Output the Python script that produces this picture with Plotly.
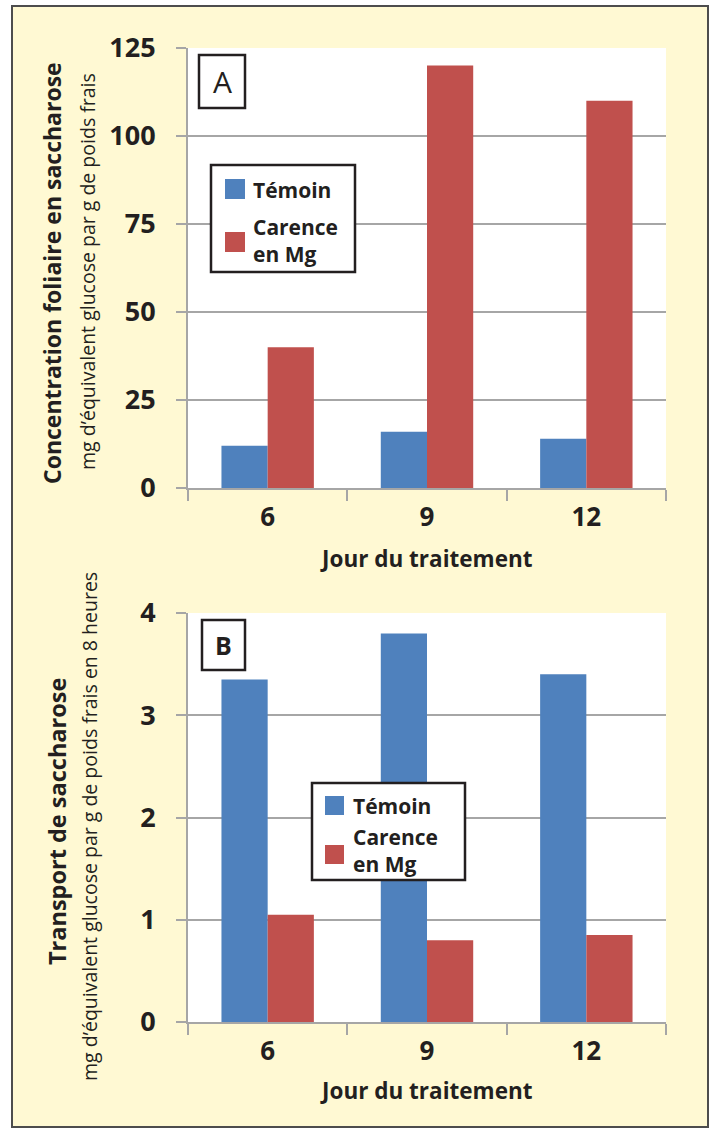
import plotly.graph_objects as go

W, H = 711, 1128

# ---- data ----
jours = ["6", "9", "12"]
series_names = ["Témoin", "Carence en Mg"]
sucrose_temoin = [12, 16, 14]
sucrose_carence = [40, 120, 110]
transport_temoin = [3.35, 3.8, 3.4]
transport_carence = [1.05, 0.8, 0.85]
ticks_A = [0, 25, 50, 75, 100, 125]
ticks_B = [0, 1, 2, 3, 4]

BLUE = "#4F81BD"
RED = "#C0504D"
GRID = "#A6A6A6"
TXT = "#231F20"
BG = "#FFF9D3"
FONT = "Open Sans"


def px(x):
    return x / W


def py(y):
    return 1 - y / H


fig = go.Figure()
fig.add_trace(go.Bar(x=jours, y=sucrose_temoin, marker_color=BLUE, marker_line_width=0,
                     name=series_names[0], xaxis="x", yaxis="y", showlegend=False))
fig.add_trace(go.Bar(x=jours, y=sucrose_carence, marker_color=RED, marker_line_width=0,
                     name=series_names[1], xaxis="x", yaxis="y", showlegend=False))
fig.add_trace(go.Bar(x=jours, y=transport_temoin, marker_color=BLUE, marker_line_width=0,
                     name=series_names[0], xaxis="x2", yaxis="y2", showlegend=False))
fig.add_trace(go.Bar(x=jours, y=transport_carence, marker_color=RED, marker_line_width=0,
                     name=series_names[1], xaxis="x2", yaxis="y2", showlegend=False))

xdom = [px(188), px(666)]
xcommon = dict(type="category", domain=xdom, showgrid=False, ticks="outside",
               tickson="boundaries", ticklen=11, tickwidth=2, tickcolor=GRID,
               showline=True, linecolor=GRID, linewidth=2, automargin=False,
               tickfont=dict(family=FONT, size=26, color=TXT, weight="bold"),
               ticklabelstandoff=5, fixedrange=True)
ycommon = dict(showgrid=True, gridcolor=GRID, gridwidth=2, ticks="outside", ticklen=10,
               tickwidth=2, tickcolor=GRID, showline=True, linecolor=GRID, linewidth=2,
               zeroline=False, automargin=False,
               tickfont=dict(family=FONT, size=27, color=TXT, weight="bold"),
               ticklabelstandoff=15, fixedrange=True)

fig.update_layout(
    width=W, height=H,
    margin=dict(l=0, r=0, t=0, b=0, pad=0, autoexpand=False),
    paper_bgcolor=BG, plot_bgcolor="white",
    barmode="group", bargap=0.42, bargroupgap=0,
    xaxis=dict(xcommon, anchor="y"),
    yaxis=dict(ycommon, domain=[py(488), py(48)], range=[0, 125], tickvals=ticks_A, anchor="x"),
    xaxis2=dict(xcommon, anchor="y2"),
    yaxis2=dict(ycommon, domain=[py(1022), py(613)], range=[0, 4], tickvals=ticks_B, anchor="x2"),
)

shapes = []
annotations = []

# white margin outside the framed panel + frame
shapes.append(dict(type="rect", xref="paper", yref="paper", x0=0, x1=1, y0=py(6), y1=1,
                   fillcolor="white", line_width=0, layer="below"))
shapes.append(dict(type="rect", xref="paper", yref="paper", x0=0, x1=px(12), y0=0, y1=1,
                   fillcolor="white", line_width=0, layer="below"))
shapes.append(dict(type="rect", xref="paper", yref="paper", x0=px(708), x1=1, y0=0, y1=1,
                   fillcolor="white", line_width=0, layer="below"))
shapes.append(dict(type="rect", xref="paper", yref="paper", x0=px(12), x1=px(708),
                   y0=py(1127), y1=py(6), line=dict(color="#4D4D4D", width=2)))


def txt(text, x, y, size, bold=True, anchor="left", angle=0):
    font = dict(family=FONT, size=size, color=TXT)
    if bold:
        font["weight"] = "bold"
    annotations.append(dict(text=text, xref="paper", yref="paper", x=px(x), y=py(y),
                            xanchor=anchor, yanchor="middle", showarrow=False, align="left",
                            textangle=angle, font=font))


def legend_box(x0, y0, x1, y1, sw_x0, sw_blue_y, sw_red_y, sw, text_x, y_temoin, y_carence):
    shapes.append(dict(type="rect", xref="paper", yref="paper", x0=px(x0), x1=px(x1),
                       y0=py(y1), y1=py(y0), fillcolor="white",
                       line=dict(color="#231F20", width=2.5)))
    shapes.append(dict(type="rect", xref="paper", yref="paper", x0=px(sw_x0), x1=px(sw_x0 + sw),
                       y0=py(sw_blue_y + sw), y1=py(sw_blue_y), fillcolor=BLUE, line_width=0))
    shapes.append(dict(type="rect", xref="paper", yref="paper", x0=px(sw_x0), x1=px(sw_x0 + sw),
                       y0=py(sw_red_y + sw), y1=py(sw_red_y), fillcolor=RED, line_width=0))
    txt(series_names[0], text_x, y_temoin, 21)
    txt(series_names[1].replace(" en ", "<br>en "), text_x, y_carence, 21)


legend_box(211, 165, 355, 272, 225, 179, 232, 20, 251, 190, 241)
legend_box(312, 783, 465, 880, 325, 796, 845, 19, 351, 806, 850)

# panel letters
shapes.append(dict(type="rect", xref="paper", yref="paper", x0=px(199), x1=px(245),
                   y0=py(108), y1=py(55), fillcolor="white", line=dict(color="#231F20", width=2.5)))
txt("A", 222, 82, 30, bold=False, anchor="center")
shapes.append(dict(type="rect", xref="paper", yref="paper", x0=px(202), x1=px(245),
                   y0=py(670), y1=py(620), fillcolor="white", line=dict(color="#231F20", width=2.5)))
txt("B", 223.5, 645, 25, anchor="center")

# axis titles
txt("Jour du traitement", 427, 558, 22.5, anchor="center")
txt("Jour du traitement", 427, 1090, 22.5, anchor="center")
txt("Concentration foliaire en saccharose", 52, 273, 23, anchor="center", angle=-90)
txt("mg d’équivalent glucose par g de poids frais", 87, 272, 19.5, bold=False,
    anchor="center", angle=-90)
txt("Transport de saccharose", 57, 822, 23.5, anchor="center", angle=-90)
txt("mg d’équivalent glucose par g de poids frais en 8 heures", 89, 827, 19.5, bold=False,
    anchor="center", angle=-90)

fig.update_layout(shapes=shapes, annotations=annotations)
fig.write_html("out.html", config={"displayModeBar": False},
               post_script="document.body.style.margin='0';document.body.style.overflow='hidden';")
